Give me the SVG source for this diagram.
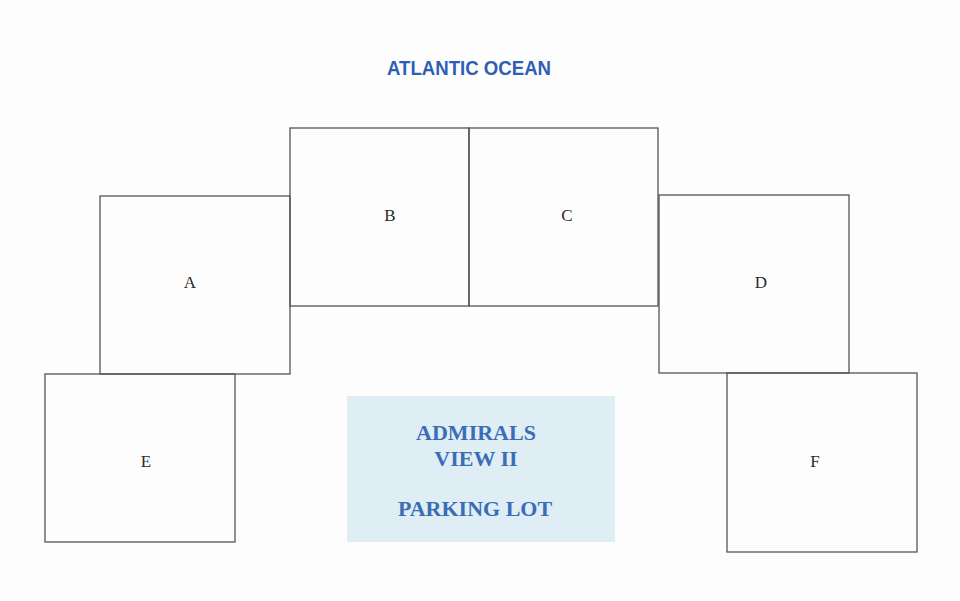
<svg xmlns="http://www.w3.org/2000/svg" width="960" height="601" viewBox="0 0 960 601">
<style>
.u{fill:none;stroke:#555;stroke-width:1.3}
.l{font-family:"Liberation Serif",serif;font-size:17px;fill:#2a2a2a;text-anchor:middle}
.p{font-family:"Liberation Serif",serif;font-size:22px;font-weight:bold;fill:#3a6db5;text-anchor:middle}
.t{font-family:"Liberation Sans",Arial,sans-serif;font-size:21px;font-weight:bold;fill:#2d5fb4;text-anchor:middle}
</style>
<rect width="960" height="601" fill="#fdfdfd"/>
<text class="t" x="469" y="75" textLength="164" lengthAdjust="spacingAndGlyphs">ATLANTIC  OCEAN</text>
<g id="A"><rect class="u" x="100" y="196" width="190" height="178"/><text class="l" x="190" y="288">A</text></g>
<g id="B"><rect class="u" x="290" y="128" width="179" height="178"/><text class="l" x="390" y="221">B</text></g>
<g id="C"><rect class="u" x="469" y="128" width="189" height="178"/><text class="l" x="567" y="221">C</text></g>
<g id="D"><rect class="u" x="659" y="195" width="190" height="178"/><text class="l" x="761" y="288">D</text></g>
<g id="E"><rect class="u" x="45" y="374" width="190" height="168"/><text class="l" x="146" y="467">E</text></g>
<g id="F"><rect class="u" x="727" y="373" width="190" height="179"/><text class="l" x="815" y="467">F</text></g>
<g id="parking"><rect x="347" y="396" width="268" height="146" fill="#dfedf5"/>
<text class="p" x="476" y="440">ADMIRALS</text>
<text class="p" x="476" y="466">VIEW II</text>
<text class="p" x="475" y="516">PARKING LOT</text></g>
<g id="connectors"/>
</svg>
